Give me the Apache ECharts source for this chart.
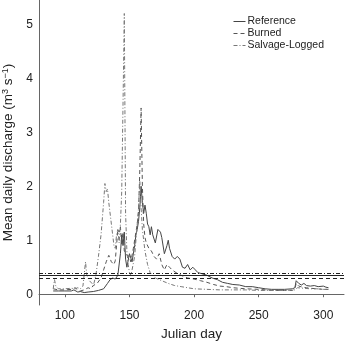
<!DOCTYPE html>
<html>
<head>
<meta charset="utf-8">
<script src="https://cdn.jsdelivr.net/npm/echarts@6/dist/echarts.min.js"></script>
<style>
  html, body { margin: 0; padding: 0; background: #fff; }
  #chart { width: 346px; height: 343px; }
</style>
</head>
<body>
<div id="chart"></div>
<script>
// Julian day / mean daily discharge
const refDays = [91, 95, 100, 105, 107, 108, 110, 112, 115, 118, 122, 126, 130, 133, 135, 137, 139, 141, 143, 144, 145, 146, 147, 148, 150, 152, 154, 155, 156, 157, 158, 159, 160, 161, 162, 163, 164, 165, 166, 167, 168, 170, 172, 174, 175, 177, 179, 180, 181, 183, 185, 187, 189, 191, 193, 195, 197, 199, 201, 203, 206, 210, 214, 218, 222, 226, 230, 235, 240, 245, 250, 255, 260, 265, 270, 276, 278, 279, 281, 283, 285, 287, 290, 293, 296, 300, 302, 304];
const refValues = [0.06, 0.06, 0.06, 0.06, 0.08, 0.05, 0.04, 0.05, 0.03, 0.04, 0.05, 0.07, 0.1, 0.2, 0.27, 0.3, 0.28, 0.35, 0.75, 1.1, 0.9, 1.15, 0.65, 0.5, 0.75, 0.6, 0.9, 1.1, 1.2, 1.35, 1.6, 2.0, 1.7, 1.5, 1.65, 1.5, 1.3, 1.25, 1.1, 1.25, 1.1, 0.95, 1.2, 1.15, 1.05, 0.75, 0.9, 1.0, 0.85, 0.7, 0.65, 0.7, 0.65, 0.5, 0.48, 0.55, 0.45, 0.5, 0.45, 0.4, 0.38, 0.35, 0.3, 0.27, 0.22, 0.2, 0.18, 0.17, 0.14, 0.14, 0.12, 0.1, 0.09, 0.09, 0.09, 0.1, 0.12, 0.25, 0.2, 0.17, 0.2, 0.16, 0.15, 0.16, 0.14, 0.15, 0.13, 0.12];

const burnDays = [91, 95, 100, 105, 108, 110, 112, 115, 118, 120, 122, 125, 128, 130, 132, 134, 136, 138, 139, 140, 141, 142, 143, 144, 145, 146, 148, 150, 151, 153, 155, 156, 157, 158, 159, 160, 161, 162, 163, 165, 167, 169, 171, 173, 175, 177, 179, 181, 183, 186, 190, 195, 200, 205, 210, 215, 220, 225, 230, 240, 250, 255, 260, 265, 270, 276, 278, 279, 281, 284, 287, 290, 295, 300, 304];
const burnValues = [0.1, 0.08, 0.08, 0.09, 0.12, 0.08, 0.06, 0.08, 0.12, 0.1, 0.16, 0.2, 0.3, 0.45, 0.6, 0.72, 0.6, 0.55, 0.62, 0.9, 1.2, 1.15, 1.25, 0.9, 1.15, 0.8, 0.72, 0.7, 0.6, 0.85, 1.15, 1.3, 1.5, 2.3, 3.45, 2.0, 1.3, 1.05, 0.95, 0.85, 0.8, 0.7, 0.65, 0.75, 0.55, 0.45, 0.55, 0.5, 0.45, 0.4, 0.35, 0.3, 0.28, 0.25, 0.22, 0.18, 0.15, 0.14, 0.12, 0.1, 0.09, 0.08, 0.07, 0.07, 0.07, 0.07, 0.1, 0.2, 0.15, 0.13, 0.12, 0.11, 0.1, 0.09, 0.09];

const salvDays = [91, 92, 93, 95, 100, 105, 108, 110, 112, 114, 116, 117, 119, 121, 122, 124, 126, 128, 130, 131, 132, 133, 134, 136, 138, 139, 140, 141, 142, 143, 144, 145, 146, 147, 148, 149, 150, 151, 152, 154, 156, 157, 158, 159, 160, 161, 162, 164, 166, 168, 170, 173, 176, 180, 185, 190, 195, 200, 210, 220, 230, 240, 250, 260, 270, 278, 280, 285, 290, 295, 300, 304];
const salvValues = [0.1, 0.27, 0.15, 0.1, 0.1, 0.11, 0.1, 0.12, 0.1, 0.15, 0.6, 0.35, 0.25, 0.2, 0.15, 0.35, 0.7, 1.1, 1.7, 2.05, 1.9, 1.95, 1.7, 1.3, 0.9, 0.85, 1.1, 1.2, 0.95, 1.3, 1.9, 3.5, 5.2, 1.5, 0.8, 0.55, 0.4, 0.35, 0.45, 0.7, 1.3, 1.6, 2.1, 1.6, 1.2, 1.0, 0.8, 0.55, 0.4, 0.35, 0.3, 0.27, 0.24, 0.2, 0.16, 0.14, 0.12, 0.1, 0.09, 0.08, 0.08, 0.08, 0.07, 0.07, 0.07, 0.08, 0.12, 0.11, 0.1, 0.1, 0.09, 0.09];

// horizontal reference levels
const refLevel = 0.36;
const burnLevel = 0.30;
const salvLevel = 0.375;

const xTicks = [100, 150, 200, 250, 300];
const yTicks = [0, 1, 2, 3, 4, 5];

const chart = echarts.init(document.getElementById('chart'));

function pairs(days, vals) {
    return days.map((d, i) => [d, vals[i]]);
}

function series(name, days, vals, color, dash, level) {
    return {
        name: name,
        type: 'line',
        data: pairs(days, vals),
        symbol: 'none',
        animation: false,
        lineStyle: { color: color, width: 1, type: dash },
        itemStyle: { color: color },
        markLine: {
            silent: true,
            symbol: 'none',
            label: { show: false },
            lineStyle: { color: '#222', width: 1.2, type: dash },
            data: [{ yAxis: level }]
        }
    };
}

const font = 'Liberation Sans, Arial, sans-serif';

chart.setOption({
    animation: false,
    grid: { left: 39, right: 2, top: 0, bottom: 38, outerBoundsMode: 'none' },
    legend: {
        orient: 'vertical',
        left: 228,
        top: 11,
        itemWidth: 12,
        itemHeight: 8,
        itemGap: 1,
        itemStyle: { opacity: 0 },
        lineStyle: { width: 1 },
        textStyle: { fontFamily: font, fontSize: 10.5, color: '#222', padding: [0, 0, 0, -3] },
        data: ['Reference', 'Burned', 'Salvage-Logged']
    },
    xAxis: {
        type: 'value',
        min: 80,
        max: 316,
        name: 'Julian day',
        nameLocation: 'middle',
        nameGap: 22,
        nameTextStyle: { fontFamily: font, fontSize: 13.5, color: '#222' },
        splitLine: { show: false },
        axisLine: { lineStyle: { color: '#666', width: 1 } },
        axisTick: { customValues: xTicks, length: 3, lineStyle: { color: '#666' } },
        axisLabel: { customValues: xTicks, fontFamily: font, fontSize: 12, color: '#222', margin: 5 }
    },
    yAxis: {
        type: 'value',
        min: -0.2,
        max: 5.45,
        name: 'Mean daily discharge (m{sup|3} s{sup|−1})',
        nameLocation: 'middle',
        nameGap: 23,
        nameTextStyle: {
            fontFamily: font, fontSize: 13.5, color: '#222',
            rich: { sup: { fontFamily: font, fontSize: 9, color: '#222', verticalAlign: 'top', padding: [0, 0, 6, 0] } }
        },
        splitLine: { show: false },
        axisLine: { show: true, lineStyle: { color: '#666', width: 1 } },
        axisTick: { show: false, customValues: yTicks },
        axisLabel: { customValues: yTicks, fontFamily: font, fontSize: 12, color: '#222', margin: 6 }
    },
    series: [
        series('Reference', refDays, refValues, '#444', 'solid', refLevel),
        series('Burned', burnDays, burnValues, '#555', [4, 3], burnLevel),
        series('Salvage-Logged', salvDays, salvValues, '#777', [4, 2, 1, 2], salvLevel)
    ]
});

window.addEventListener('resize', () => chart.resize());
</script>
</body>
</html>
